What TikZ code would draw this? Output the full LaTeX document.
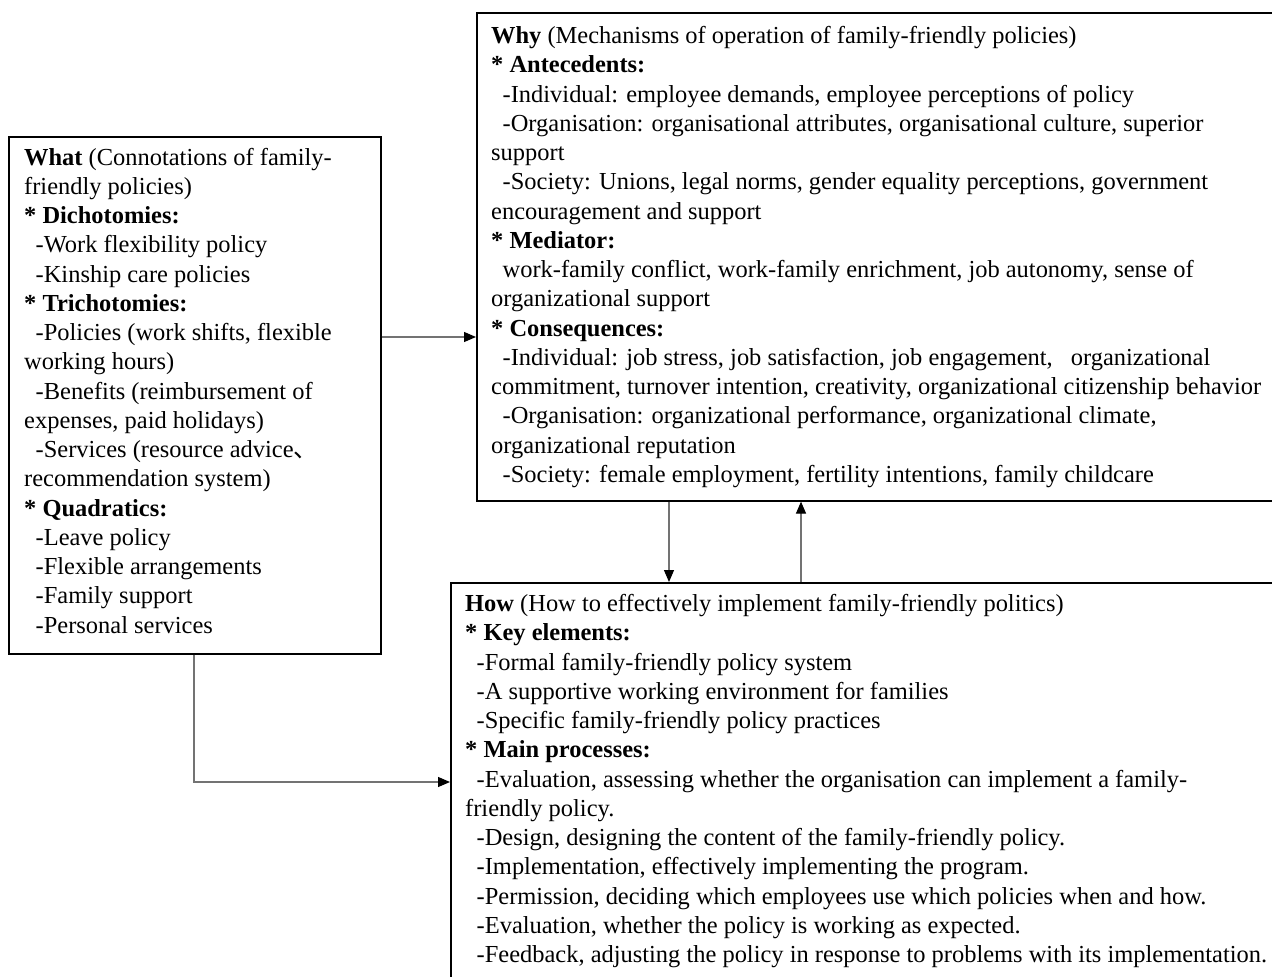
\documentclass[tikz,border=0pt]{standalone}
\usepackage{fontspec}
\setmainfont{Liberation Serif}
\newfontfamily\cjk{Noto Sans CJK SC}
\usepackage{tikz}
\usetikzlibrary{positioning,calc,arrows.meta}

\newcommand{\indt}{\hspace*{11.5pt}}

\tikzset{
  box/.style={draw=black, line width=1.6pt, anchor=north west, inner sep=0pt},
  txt/.style={anchor=north west, inner sep=0pt, align=left,
    font=\fontsize{24.45}{29.25}\selectfont},
  conn/.style={draw=black!55, line width=1.2pt,
    -{Triangle[length=12pt,width=10pt,color=black]}}
}

\begin{document}
\begin{tikzpicture}[x=1pt,y=-1pt]
    \useasboundingbox (0,0) rectangle (1272,977);
    % Boxes
    \node[box, minimum width=372, minimum height=517] (what) at (8,136) {};
    \node[box, minimum width=830, minimum height=488] (why) at (476,12) {};
    \node[box, minimum width=860, minimum height=420] (how) at (450,582) {};
    % What
    \node[txt] (whattext) at (24,144.5) {\strut\textbf{What} (Connotations of family-\\
friendly policies)\\
\textbf{* Dichotomies:}\\
\indt-Work flexibility policy\\
\indt-Kinship care policies\\
\textbf{* Trichotomies:}\\
\indt-Policies (work shifts, flexible\\
working hours)\\
\indt-Benefits (reimbursement of\\
expenses, paid holidays)\\
\indt-Services (resource advice{\cjk 、}\\
recommendation system)\\
\textbf{* Quadratics:}\\
\indt-Leave policy\\
\indt-Flexible arrangements\\
\indt-Family support\\
\indt-Personal services};
    % Why
    \node[txt] (whytext) at (491,23) {\strut\textbf{Why} (Mechanisms of operation of family-friendly policies)\\
\textbf{* Antecedents:}\\
\indt-Individual: employee demands, employee perceptions of policy\\
\indt-Organisation: organisational attributes, organisational culture, superior\\
support\\
\indt-Society: Unions, legal norms, gender equality perceptions, government\\
encouragement and support\\
\textbf{* Mediator:}\\
\indt work-family conflict, work-family enrichment, job autonomy, sense of\\
organizational support\\
\textbf{* Consequences:}\\
\indt-Individual: job stress, job satisfaction, job engagement,\hspace{12pt} organizational\\
commitment, turnover intention, creativity, organizational citizenship behavior\\
\indt-Organisation: organizational performance, organizational climate,\\
organizational reputation\\
\indt-Society: female employment, fertility intentions, family childcare};
    % How
    \node[txt] (howtext) at (465,591) {\strut\textbf{How} (How to effectively implement family-friendly politics)\\
\textbf{* Key elements:}\\
\indt-Formal family-friendly policy system\\
\indt-A supportive working environment for families\\
\indt-Specific family-friendly policy practices\\
\textbf{* Main processes:}\\
\indt-Evaluation, assessing whether the organisation can implement a family-\\
friendly policy.\\
\indt-Design, designing the content of the family-friendly policy.\\
\indt-Implementation, effectively implementing the program.\\
\indt-Permission, deciding which employees use which policies when and how.\\
\indt-Evaluation, whether the policy is working as expected.\\
\indt-Feedback, adjusting the policy in response to problems with its implementation.};
    % Connectors
    \coordinate (mid) at (0,337);
    \coordinate (dn) at (669,0);
    \coordinate (up) at (801,0);
    \coordinate (turn) at (194,782);
    \draw[conn] (what.east |- mid) -- (why.west |- mid);
    \draw[conn] (why.south -| dn) -- (how.north -| dn);
    \draw[conn] (how.north -| up) -- (why.south -| up);
    \draw[conn] (what.south -| turn) |- (how.west |- turn);
\end{tikzpicture}
\end{document}
